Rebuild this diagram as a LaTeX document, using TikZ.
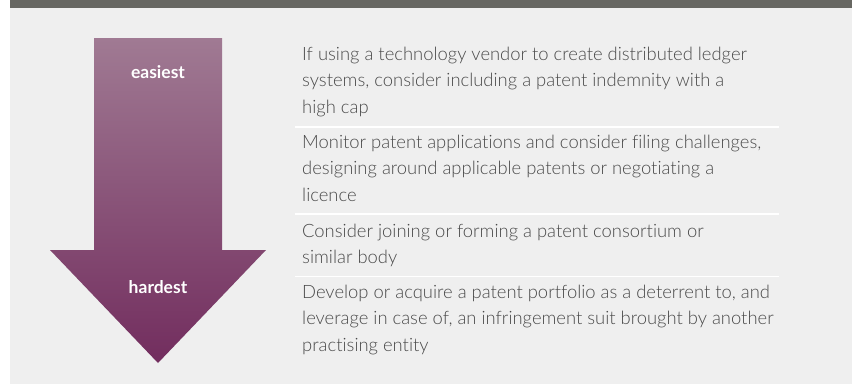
\documentclass[tikz,border=0pt]{standalone}
\usepackage{fontspec}
\setmainfont{Lato}[UprightFont=* Light, BoldFont=* Bold, Ligatures=NoCommon]
\definecolor{barcol}{HTML}{676762}
\definecolor{panelcol}{HTML}{EFEFEF}
\definecolor{bodycol}{HTML}{4A4A4A}
\definecolor{arrowtop}{HTML}{A07A93}
\definecolor{arrowbot}{HTML}{722D5E}
\tikzset{
  steplabel/.style={text=white, font=\bfseries\fontsize{17.5}{20}\selectfont, inner sep=0pt},
  itemtext/.style={anchor=base west, align=left, inner sep=0pt, text=bodycol,
    font=\fontsize{18.4}{26.5}\selectfont},
  rule/.style={draw=white, line width=1.2pt}
}
\begin{document}
\begin{tikzpicture}[x=1pt,y=-1pt]
\useasboundingbox (0,0) rectangle (852,384);
% page, panel and title bar
\fill[white] (0,0) rectangle (852,384);
\fill[panelcol] (10,0) rectangle (852,384);
\fill[barcol] (10,0) rectangle (852,8);
% downward arrow
\shade[top color=arrowtop, bottom color=arrowbot]
  (94,38) -- (222,38) -- (222,250) -- (266,250) -- (158,363) -- (50,250) -- (94,250) -- cycle;
\node[steplabel] (easy) at (158,72) {easiest};
\node[steplabel] (hard) at (158,287) {hardest};
% measures, easiest first (anchored at the baseline of each last line)
\node[itemtext] (m1) at (302,113) {If using a technology vendor to create distributed ledger\\systems, consider including a patent indemnity with a\\high cap};
\node[itemtext] (m2) at (302,201) {Monitor patent applications and consider filing challenges,\\designing around applicable patents or negotiating a\\licence};
\node[itemtext] (m3) at (302,263.5) {Consider joining or forming a patent consortium or\\similar body};
\node[itemtext] (m4) at (302,351) {Develop or acquire a patent portfolio as a deterrent to, and\\leverage in case of, an infringement suit brought by another\\practising entity};
% separators
\draw[rule] (295,127) -- (779,127);
\draw[rule] (295,214) -- (779,214);
\draw[rule] (295,276.5) -- (779,276.5);
\end{tikzpicture}
\end{document}
